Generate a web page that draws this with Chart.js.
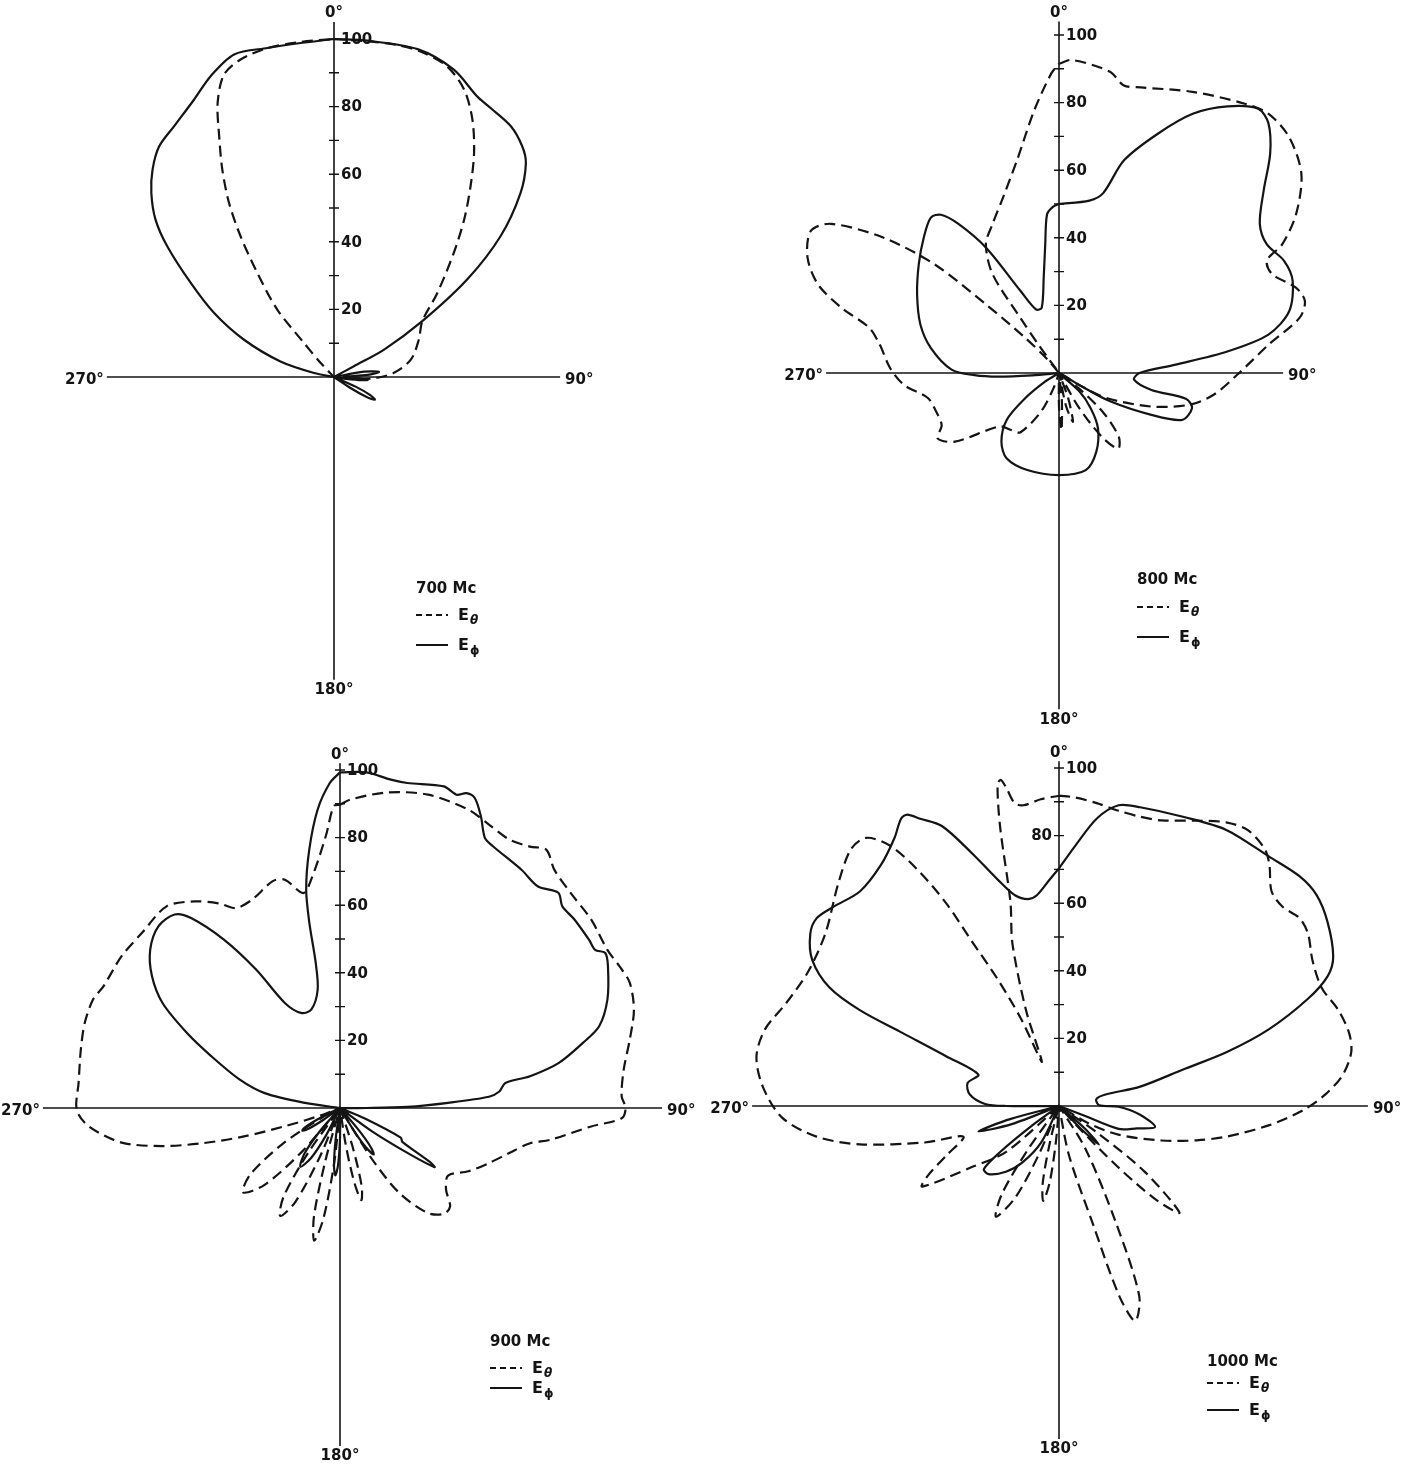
<!DOCTYPE html>
<html>
<head>
<meta charset="utf-8">
<title>Radiation patterns 700 - 1000 Mc</title>
<script src="https://cdn.jsdelivr.net/npm/chart.js@4.4.1/dist/chart.umd.min.js"></script>
<style>
  html, body { margin: 0; padding: 0; background: #fff; }
  #sheet { position: relative; width: 1423px; height: 1468px; overflow: hidden; background: #fff; }
  #sheet canvas { position: absolute; }
</style>
</head>
<body>
<div id="sheet">
  <canvas id="c700" width="711" height="734"></canvas>
  <canvas id="c800" width="712" height="734"></canvas>
  <canvas id="c900" width="711" height="734"></canvas>
  <canvas id="c1000" width="712" height="734"></canvas>
</div>
<script>
// ---------------- pattern data: [angle in degrees (clockwise from 0°), relative field] ----------------

const E_THETA_700 = [
  [0,100],[6,99.8],[11,100],[15,99.6],[20,97.8],[24.4,93.3],[28.3,86.4],[32,78.2],[35.6,69.4],
  [39.6,60.4],[44,51],[50.9,39.4],[57.7,30.9],[66.3,27.4],[77.3,23.3],[86,17.8],[91,12.8],[96,6],
  [100,0],[315,0],[316.4,5.7],[318.6,13.4],[319.9,26],[323.6,38.2],[326.4,49.9],[328.9,60.1],
  [331.7,69.7],[334.5,78.9],[337,88.1],[340,95.2],[343.6,97.9],[348.6,99.3],[354.3,99.6],[360,100]
];
const E_PHI_700 = [
  [0,100],[5.7,100],[14.3,100.1],[21.3,97.6],[27,93.2],[30.2,92.1],[35.2,90.8],[39.2,88.1],
  [41.9,85],[45.4,77.5],[49.8,64.5],[53.8,48.8],[57.7,30.9],[61.3,16.9],[61.5,6.7],[63,0],
  [76,0],[80,9],[83.5,13.4],[86.5,10],[89,3],[92,6],[95,10],[98,5],[102,0],
  [111,0],[114,7],[116.5,12],[119,13.8],[121.5,11],[123.5,6],[126,0],
  [279,0],[281.4,6],[286.2,16.5],[292.5,28.8],[298.1,40.2],[303.3,50.7],[308.1,62.7],[311.4,70.4],
  [315.2,76.7],[318.8,81.5],[322.8,85.6],[327.5,88],[333.2,91.9],[337.7,96.2],[342.8,99.9],
  [348.6,99.3],[354.3,99.3],[360,100]
];

const E_THETA_800 = [
  [0,91.5],[2.4,92.7],[9.6,90.4],[12.7,87.2],[16,87.9],[25.4,92.1],[34.6,96.8],[38.9,98.6],
  [44.3,97.5],[50.6,92.8],[56.2,84.4],[60,76.3],[61.6,69.9],[65.1,69.5],[70.2,74.5],[73.7,75.8],
  [77.1,73],[82.3,62.6],[90.5,52.8],[98,46.2],[103.7,39.7],[110,29],[117.7,15.9],[120.7,6.9],
  [124,0],[128,8],[132,18],[137,26],[142,28.4],[146,23],[150,12],[154,0],
  [158,0],[160,8],[164,15],[168,10],[171,0],[174,8],[177.5,17],[180,10],[183,0],
  [195,0],[200,5],[205,12.6],[213,20.9],[220,22],[228,23.6],[236.6,36.9],[241.7,40.8],[246,38],
  [252.6,38.1],[259.2,39.5],[265.6,46],[271.7,50],[279,53.7],[283.4,57.7],[286.7,67.2],[290.2,76],
  [294.7,81.9],[299.8,84.6],[303.2,80.6],[307.6,65.7],[311.1,49],[313.2,29.6],[316,15],[320,5],
  [322,0],[324,10],[325,19.9],[326.1,35.2],[330.4,43.8],[336,48.3],[342.4,54.6],[348.8,64.1],
  [354.6,78],[358.5,88.6],[360,91.5]
];
const E_PHI_800 = [
  [0,50],[10,51.8],[13.8,54.8],[17,65.8],[22.5,76.7],[27.3,86.3],[32.3,93.3],[37,97.9],[40,96.4],
  [43.9,90.1],[48.3,81.1],[53.4,74],[58.2,72.3],[63.5,74.4],[68.5,74.3],[75,70.5],[79.6,63],
  [82.7,50.2],[85.9,34.6],[90,23.8],[95.1,22.3],[100.4,27.8],[101.5,38.3],[104.8,40.7],[110.8,39],
  [114.4,30],[119,17.3],[120.7,6.9],[124,0],
  [132,8],[138,14],[144.8,20],[154.7,25.8],[164.6,29.8],[180,30.2],[198.1,30.2],[211.6,29.6],
  [220,26.5],[228.1,20.8],[233,13],[238,5],[242,0],
  [262,0],[265,8],[266.5,18],[268.5,25],[271.8,31.8],[281,38.6],[289.4,43.5],[299,48],[307.8,52.5],
  [315,56.6],[320.5,59.6],[323.3,58.4],[326,53.2],[329.8,42.9],[334.9,26.8],[340.1,20],[345.2,20],
  [350.9,28.6],[353.9,38.3],[355.7,47.1],[357.9,49.2],[360,50]
];

const E_THETA_900 = [
  [0,89.7],[1.9,91.3],[8.5,94.4],[15.7,96.3],[23.3,96.1],[27.8,94.7],[32.3,93.9],[36,95.6],
  [38.6,97.8],[42,94.8],[47,93.3],[53.1,92.9],[59.4,91.9],[63.1,92.7],[66.6,93.4],[71.5,91.7],
  [76.7,88.1],[82.3,84.7],[87.6,83.4],[90,84.5],[92.1,83.4],[94.2,74.5],[98.6,62.9],[100.5,57.2],
  [104.9,51.8],[110.3,47],[116.2,42.4],[122,37.7],[127.6,39.6],[131.8,43.7],[135.5,43.9],
  [140.1,40.5],[145.1,30.6],[147.7,19.3],[148.5,10],[150,0],
  [159,0],[162,12],[164.5,24],[167,28],[169,23],[171,12],[173.5,0],
  [184,0],[186,16],[188.5,33],[191,40],[193.5,33],[195.5,16],[198,0],
  [200,0],[202.5,16],[205.5,31],[209,36.5],[212.5,31],[215.5,16],[218,0],
  [221,17],[224.5,32],[229,38],[233.5,33],[238,20],[242,6],[245,0],
  [249,6],[251.7,17.2],[253.5,29.6],[255.6,41.8],[257.9,53.7],[261,65.4],[265.8,74.5],[269.6,77.9],
  [275.5,77.7],[282.7,78.6],[288.4,79.6],[293.7,79.8],[297.2,78.7],[304.8,78.7],[311.5,78.2],
  [319.3,78.7],[324.9,74.7],[329.5,70.2],[332.5,66.7],[337.1,66.9],[343.5,70],[346.4,69.5],
  [350.3,64.5],[352.8,68.1],[357,80.5],[358.8,89.3],[360,89.7]
];
const E_PHI_900 = [
  [0,99.3],[4.5,99.6],[8.8,98.3],[11.7,98.2],[17.9,100],[20.4,98.9],[21.9,100.4],[23.5,100],
  [25.8,95.8],[28.2,90.7],[30.3,89.7],[37.3,88.6],[41.8,87.9],[45.4,90.7],[47.8,88.8],[51.2,89],
  [56,88.9],[58.2,88.8],[59.7,90.9],[62.1,89.7],[67.9,85.4],[72.5,80.4],[75,74.4],[78.4,66],
  [80.5,57],[81.4,49.5],[84.1,47.4],[85.7,44.2],[87.3,32],[89.1,19.9],[90,7.9],[91,0],
  [108,0],[113,8],[116,20],[118.5,21],[121,31],[122,33],[123.5,25],[126,12],[129,0],
  [137,0],[139.5,8],[141.5,14],[144,17],[146.5,14],[148.5,8],[151,0],
  [178,0],[180,9],[182,17],[184,20],[186,17],[188,9],[190,0],
  [204,0],[207,9],[210,17],[214,21],[218,17],[221,9],[224,0],
  [232,0],[234.5,6],[236.5,11],[239,13],[241.5,11],[243.5,6],[246,0],
  [273,0],[278.3,10.4],[281.2,22.7],[285.8,30.8],[291.9,41],[296.1,50.4],[300.6,61],[305,67.9],
  [309.8,73.1],[315,76],[319.5,75.3],[321.9,71.4],[325.4,60.5],[328.8,47.8],[332.3,35.1],
  [337.7,30.4],[343.7,30.3],[349.3,35.6],[350.5,43.5],[350.6,55.5],[351.2,65.4],[353.2,76.9],
  [355.7,88.5],[358.2,96.2],[360,99.3]
];

const E_THETA_1000 = [
  [0,91.8],[3,91.4],[7.1,90.3],[11.4,89.1],[15.7,88.9],[19.8,89.8],[25.7,93.7],[30.5,97.4],
  [34.4,98.9],[38.7,97.4],[41.1,94.7],[44.7,89.4],[48.3,88.6],[52,90.3],[55.3,89.6],[60.1,86.5],
  [65.7,85.2],[71.1,87.4],[75.9,88.5],[79.6,87.9],[83.8,84.4],[87.5,78.9],[90.9,72.4],[95.2,62.5],
  [100.4,50.3],[104,42],[108.6,32],[115.8,19.5],[120.4,10.1],[123,0],
  [125,14],[127.5,32],[131.5,47.6],[134,40],[136,25],[138,8],[139,0],
  [146,0],[148.3,15],[154,38.4],[157.1,61],[160.5,67.5],[162.4,59],[164,36],[168.5,15],[171,0],
  [183,0],[185,11],[187,23],[189.5,28.5],[192,23],[194,11],[196,0],
  [200,0],[202.5,15],[205.5,30],[209.7,37.7],[213,31],[215.5,16],[218,0],
  [225,0],[229,20.7],[235,31.5],[239.5,47],[242,44],[246.2,36.5],[252.2,29.7],[254.8,41.2],
  [259.1,60],[262.8,72.3],[267.6,82],[273.7,87.8],[279.3,90.7],[284.6,89.9],[290.8,86.2],
  [298.1,84.2],[306.4,85.9],[315.2,92.7],[321,97.8],[324.3,97.7],[327,91.9],[329,82],[330.9,68.8],
  [332.1,55.2],[334.2,41.6],[336.5,28],[338.8,14],[341,30],[344,50],[346.6,62],[348.1,84.6],
  [349.2,97],[349.9,98],[350.6,95.4],[351.7,90.5],[353.3,89.6],[356.6,90.9],[360,91.8]
];
const E_PHI_1000 = [
  [0,70.3],[3.6,77.2],[7.5,85.8],[11.2,90.7],[15.2,91.6],[23.2,93.1],[31.2,95.5],[40.2,96.5],
  [46.3,98.4],[50.7,98.5],[55.6,96.3],[61.4,92.4],[64.2,88.3],[66.7,80.2],[69.9,66.2],[72.2,52],
  [73.6,38.3],[76.6,24.7],[76.2,14.2],[79.7,11.2],[89,11.9],[90.7,17.6],[96,24],[102.3,29.1],
  [106,24],[111,18.9],[110.9,7.9],[111,0],
  [128,0],[131,10],[134,16.4],[136,10],[139,0],
  [200,0],[206,12],[213,20],[219,25],[226,29],[230,29],[232,22],[234,10],[237,0],
  [246,0],[249,15],[252.5,25],[255,15],[258,0],
  [268.5,0],[270,15.6],[271.6,21.9],[277.3,26.6],[284.1,27.9],[291.3,25.6],[293.8,36.5],[295,51],
  [295.7,65.4],[297.3,76.4],[300.6,84.8],[304.7,89.5],[307.8,90.7],[311.5,89],[317.2,86.6],
  [323.6,88.7],[328.5,93.1],[331.2,97],[332.5,97.2],[334.2,94.4],[337.3,89.8],[341,79.1],
  [344.9,69.3],[348.2,63.7],[351.5,61.9],[354,62.7],[357.6,67],[360,70.3]
];

// radial scale marks and labels
const RADIAL_TICKS = [10, 20, 30, 40, 50, 60, 70, 80, 90, 100];
const RADIAL_LABELS = [20, 40, 60, 80, 100];
const ANGLE_LABELS = ["0°", "90°", "180°", "270°"];
const SERIES = [["E", "θ"], ["E", "ϕ"]];

// ---------------- layout ----------------
const PX_PER_UNIT = 3.38;
const INK = "#141414";
const FONT = '"DejaVu Sans", "Liberation Sans", sans-serif';

const PANELS = [
  { id: "c700", title: "700 Mc", theta: E_THETA_700, phi: E_PHI_700,
    box: [0, 0, 711, 734], center: [334, 377],
    arms: { left: 67.2, right: 66.9, top: 105, bottom: 89.6 },
    legend: { x: 82, title: 212, dash: 238, solid: 268 }, leftLabels: [] },
  { id: "c800", title: "800 Mc", theta: E_THETA_800, phi: E_PHI_800,
    box: [711, 0, 712, 734], center: [1059, 373],
    arms: { left: 68.9, right: 66.3, top: 104, bottom: 99.5 },
    legend: { x: 78, title: 207, dash: 234, solid: 264 }, leftLabels: [] },
  { id: "c900", title: "900 Mc", theta: E_THETA_900, phi: E_PHI_900,
    box: [0, 734, 711, 734], center: [340, 1108],
    arms: { left: 87.9, right: 95.3, top: 102, bottom: 100 },
    legend: { x: 150, title: 234, dash: 260, solid: 280 }, leftLabels: [] },
  { id: "c1000", title: "1000 Mc", theta: E_THETA_1000, phi: E_PHI_1000,
    box: [711, 734, 712, 734], center: [1059, 1106],
    arms: { left: 90.8, right: 91.4, top: 102, bottom: 98.5 },
    legend: { x: 148, title: 256, dash: 277, solid: 304 }, leftLabels: [80] }
];

// polar (deg, r) -> cartesian, 0° straight up, angles running clockwise
function toXY(pairs) {
  return pairs.map(([deg, r]) => {
    const a = deg * Math.PI / 180;
    return { x: r * Math.sin(a), y: r * Math.cos(a) };
  });
}

// ---------------- axes, scale marks and key ----------------
const polarFrame = {
  id: "polarFrame",
  beforeDatasetsDraw(chart, args, opts) {
    const p = opts.panel;
    const { ctx } = chart;
    const sx = chart.scales.x, sy = chart.scales.y;
    const X = v => sx.getPixelForValue(v);
    const Y = v => sy.getPixelForValue(v);
    const x0 = X(0), y0 = Y(0);

    ctx.save();
    ctx.strokeStyle = INK;
    ctx.fillStyle = INK;
    ctx.lineWidth = 1.6;
    ctx.beginPath();
    ctx.moveTo(X(-p.arms.left), y0);
    ctx.lineTo(X(p.arms.right), y0);
    ctx.moveTo(x0, Y(p.arms.top));
    ctx.lineTo(x0, Y(-p.arms.bottom));
    ctx.stroke();

    ctx.lineWidth = 1.4;
    ctx.beginPath();
    RADIAL_TICKS.forEach(t => {
      ctx.moveTo(x0 - 5, Y(t));
      ctx.lineTo(x0 + 5, Y(t));
    });
    ctx.stroke();

    ctx.font = "bold 15px " + FONT;
    ctx.textBaseline = "middle";
    RADIAL_LABELS.forEach(t => {
      if (p.leftLabels.includes(t)) {
        ctx.textAlign = "right";
        ctx.fillText(String(t), x0 - 7, Y(t) + 1);
      } else {
        ctx.textAlign = "left";
        ctx.fillText(String(t), x0 + 7, Y(t) + 1);
      }
    });

    // direction labels at the ends of the axes
    ctx.font = "bold 15px " + FONT;
    ctx.textAlign = "center";
    ctx.textBaseline = "bottom";
    ctx.fillText(ANGLE_LABELS[0], x0, Y(p.arms.top) - 1);
    ctx.textBaseline = "top";
    ctx.fillText(ANGLE_LABELS[2], x0, Y(-p.arms.bottom) + 3);
    ctx.textBaseline = "middle";
    ctx.textAlign = "left";
    ctx.fillText(ANGLE_LABELS[1], X(p.arms.right) + 5, y0 + 3);
    ctx.textAlign = "right";
    ctx.fillText(ANGLE_LABELS[3], X(-p.arms.left) - 3, y0 + 3);
    ctx.restore();
  },
  afterDatasetsDraw(chart, args, opts) {
    const p = opts.panel;
    const { ctx } = chart;
    const x0 = chart.scales.x.getPixelForValue(0);
    const y0 = chart.scales.y.getPixelForValue(0);
    const L = p.legend;
    const lx = x0 + L.x;

    ctx.save();
    ctx.fillStyle = INK;
    ctx.strokeStyle = INK;
    ctx.textBaseline = "middle";
    ctx.textAlign = "left";
    ctx.font = "bold 15px " + FONT;
    ctx.fillText(p.title, lx, y0 + L.title);

    const rows = [[L.dash, [6, 4]], [L.solid, []]];
    rows.forEach(([dy, dash], i) => {
      ctx.lineWidth = 2;
      ctx.setLineDash(dash);
      ctx.beginPath();
      ctx.moveTo(lx, y0 + dy);
      ctx.lineTo(lx + 32, y0 + dy);
      ctx.stroke();
      ctx.setLineDash([]);
      ctx.font = "bold 16px " + FONT;
      ctx.fillText(SERIES[i][0], lx + 42, y0 + dy + 1);
      const w = ctx.measureText(SERIES[i][0]).width;
      ctx.font = (i === 0 ? "italic bold " : "bold ") + "12px " + FONT;
      ctx.fillText(SERIES[i][1], lx + 43 + w, y0 + dy + 6);
    });
    ctx.restore();
  }
};

// ---------------- charts ----------------
PANELS.forEach(p => {
  const canvas = document.getElementById(p.id);
  const [L, T, W, H] = p.box;
  const [cx, cy] = p.center;
  canvas.style.left = L + "px";
  canvas.style.top = T + "px";

  const line = (data, dash) => ({
    data: toXY(data),
    showLine: true,
    borderColor: INK,
    borderWidth: 2.2,
    borderDash: dash,
    borderJoinStyle: "round",
    pointRadius: 0,
    pointHoverRadius: 0,
    tension: 0.3,
    fill: false
  });

  new Chart(canvas, {
    type: "scatter",
    data: {
      datasets: [
        Object.assign(line(p.theta, [11, 6]), { label: "Eθ" }),
        Object.assign(line(p.phi, []), { label: "Eϕ" })
      ]
    },
    options: {
      responsive: false,
      animation: false,
      devicePixelRatio: 1,
      layout: { padding: 0 },
      events: [],
      scales: {
        x: { type: "linear", display: false, min: (L - cx) / PX_PER_UNIT, max: (L + W - cx) / PX_PER_UNIT },
        y: { type: "linear", display: false, min: (cy - T - H) / PX_PER_UNIT, max: (cy - T) / PX_PER_UNIT }
      },
      plugins: {
        legend: { display: false },
        tooltip: { enabled: false },
        polarFrame: { panel: p }
      }
    },
    plugins: [polarFrame]
  });
});
</script>
</body>
</html>
